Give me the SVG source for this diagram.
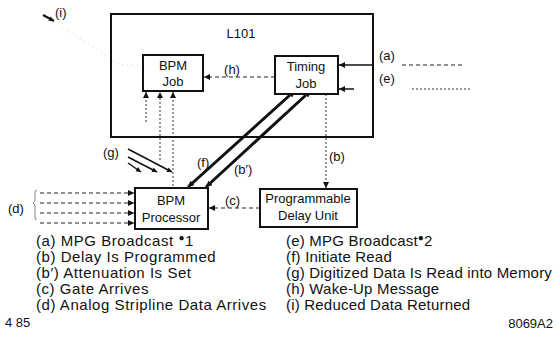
<svg xmlns="http://www.w3.org/2000/svg" width="559" height="357" viewBox="0 0 559 357">
<style>
.box{fill:#fff;stroke:#111;stroke-width:2}
.t{font-family:"Liberation Sans",Arial,sans-serif;font-size:13px;fill:#111}
.c{text-anchor:middle}
.leg{font-family:"Liberation Sans",Arial,sans-serif;font-size:15px;fill:#111}
.legL{letter-spacing:0.55px}
.legR{letter-spacing:0.2px}
.dash{stroke:#222;stroke-width:1;stroke-dasharray:4 3;fill:none}
.dot{stroke:#333;stroke-width:1;stroke-dasharray:2 2;fill:none}
.faint{stroke:#c8c8c8;stroke-width:1;stroke-dasharray:1 4;fill:none}
.solid{stroke:#111;stroke-width:1.5;fill:none}
.thick{stroke:#111;stroke-width:3;fill:none}
</style>
<defs>
<marker id="ah" viewBox="0 0 10 10" refX="10" refY="5" markerWidth="10" markerHeight="6" markerUnits="userSpaceOnUse" orient="auto"><path d="M0,0 L10,5 L0,10 z" fill="#111"/></marker>
<marker id="ahs" viewBox="0 0 10 10" refX="10" refY="5" markerWidth="7" markerHeight="5" markerUnits="userSpaceOnUse" orient="auto"><path d="M0,0 L10,5 L0,10 z" fill="#111"/></marker>
<marker id="ahb" viewBox="0 0 10 10" refX="0" refY="5" markerWidth="10" markerHeight="7" markerUnits="userSpaceOnUse" orient="auto-start-reverse"><path d="M0,0 L10,5 L0,10 z" fill="#111"/></marker>
</defs>

<g id="connectors">
  <!-- (i) -->
  <polyline class="faint" points="143,65 120,65 60,25"/>
  <line x1="43" y1="15" x2="54" y2="21" stroke="#111" stroke-width="2" marker-end="url(#ahs)"/>
  <!-- (h) -->
  <line class="dash" x1="275" y1="77" x2="204" y2="77" marker-end="url(#ah)"/>
  <!-- (a) -->
  <line class="solid" x1="373" y1="65" x2="339" y2="65" marker-end="url(#ah)"/>
  <line class="dash" x1="402" y1="65" x2="462" y2="65" stroke="#777"/>
  <!-- (e) -->
  <line class="solid" x1="354" y1="89" x2="339" y2="89" marker-end="url(#ah)"/>
  <line class="dot" x1="412" y1="89" x2="472" y2="89" stroke="#888"/>
  <!-- (b) -->
  <line class="dot" x1="326" y1="94" x2="326" y2="188" marker-end="url(#ah)"/>
  <!-- (f) and (b') -->
  <line class="thick" x1="290" y1="95" x2="188" y2="187" marker-start="url(#ahb)" marker-end="url(#ah)"/>
  <line class="thick" x1="306" y1="95" x2="206" y2="187" marker-start="url(#ahb)" marker-end="url(#ah)"/>
  <!-- (c) -->
  <line class="dash" x1="260" y1="208" x2="209" y2="208" marker-end="url(#ah)"/>
  <!-- (d) -->
  <line class="dash" x1="40" y1="193" x2="134" y2="193" marker-end="url(#ah)"/>
  <line class="dash" x1="40" y1="203" x2="134" y2="203" marker-end="url(#ah)"/>
  <line class="dash" x1="40" y1="213" x2="134" y2="213" marker-end="url(#ah)"/>
  <line class="dash" x1="40" y1="223" x2="134" y2="223" marker-end="url(#ah)"/>
  <path d="M37,190 q-2,0 -2,3 v6 q0,3 -2,4 q2,1 2,4 v10 q0,3 2,3" fill="none" stroke="#666" stroke-width="0.8"/>
  <!-- (g) data to BPM Job -->
  <line class="dot" x1="146" y1="122" x2="146" y2="92" marker-end="url(#ah)"/>
  <line class="dot" x1="160" y1="160" x2="160" y2="92" marker-end="url(#ah)"/>
  <line class="dot" x1="173" y1="186" x2="173" y2="92" marker-end="url(#ah)"/>
  <!-- (g) pointers -->
  <line class="solid" stroke-width="1" x1="128" y1="149" x2="172" y2="172" marker-end="url(#ahs)"/>
  <line class="solid" stroke-width="1" x1="128" y1="157" x2="157" y2="172" marker-end="url(#ahs)"/>
  <line class="solid" stroke-width="1" x1="128" y1="163" x2="141" y2="172" marker-end="url(#ahs)"/>
</g>

<g id="L101">
  <rect class="box" x="111" y="14" width="262" height="123" style="fill:none"/>
  <text class="t c" x="241" y="38" font-size="14">L101</text>
</g>
<g id="bpm-job">
  <rect class="box" x="143" y="55" width="60" height="36"/>
  <text class="t c" x="173" y="70">BPM</text>
  <text class="t c" x="173" y="86">Job</text>
</g>
<g id="timing-job">
  <rect class="box" x="275" y="56" width="63" height="38"/>
  <text class="t c" x="306" y="71">Timing</text>
  <text class="t c" x="306" y="88">Job</text>
</g>
<g id="bpm-processor">
  <rect class="box" x="135" y="188" width="73" height="41"/>
  <text class="t c" x="171" y="205">BPM</text>
  <text class="t c" x="171" y="222">Processor</text>
</g>
<g id="delay-unit">
  <rect class="box" x="260" y="189" width="97" height="38"/>
  <text class="t c" x="308" y="203">Programmable</text>
  <text class="t c" x="308" y="220">Delay Unit</text>
</g>

<g id="labels">
  <text class="t" x="55" y="17">(i)</text>
  <text class="t c" x="232" y="74">(h)</text>
  <text class="t" x="379" y="60">(a)</text>
  <text class="t" x="379" y="83">(e)</text>
  <text class="t" x="329" y="161">(b)</text>
  <text class="t" x="197" y="167">(f)</text>
  <text class="t" x="234" y="174">(b′)</text>
  <text class="t" x="225" y="205">(c)</text>
  <text class="t" x="8" y="213">(d)</text>
  <text class="t" x="103" y="157">(g)</text>
</g>

<g id="legend">
  <text class="leg legL" x="36" y="246">(a) MPG Broadcast <tspan dy="-5" font-size="10">●</tspan><tspan dy="5">1</tspan></text>
  <text class="leg legL" x="36" y="262">(b) Delay Is Programmed</text>
  <text class="leg legL" x="36" y="278">(b′) Attenuation Is Set</text>
  <text class="leg legL" x="36" y="294">(c) Gate Arrives</text>
  <text class="leg legL" x="36" y="310">(d) Analog Stripline Data Arrives</text>
  <text class="leg legR" x="286" y="246">(e) MPG Broadcast<tspan dy="-5" font-size="10">●</tspan><tspan dy="5">2</tspan></text>
  <text class="leg legR" x="286" y="262">(f) Initiate Read</text>
  <text class="leg legR" x="286" y="278">(g) Digitized Data Is Read into Memory</text>
  <text class="leg legR" x="286" y="294">(h) Wake-Up Message</text>
  <text class="leg legR" x="286" y="310">(i) Reduced Data Returned</text>
  <text class="t" x="5" y="327" font-size="9">4 85</text>
  <text class="t" x="553" y="328" font-size="8.5" text-anchor="end">8069A2</text>
</g>
</svg>
